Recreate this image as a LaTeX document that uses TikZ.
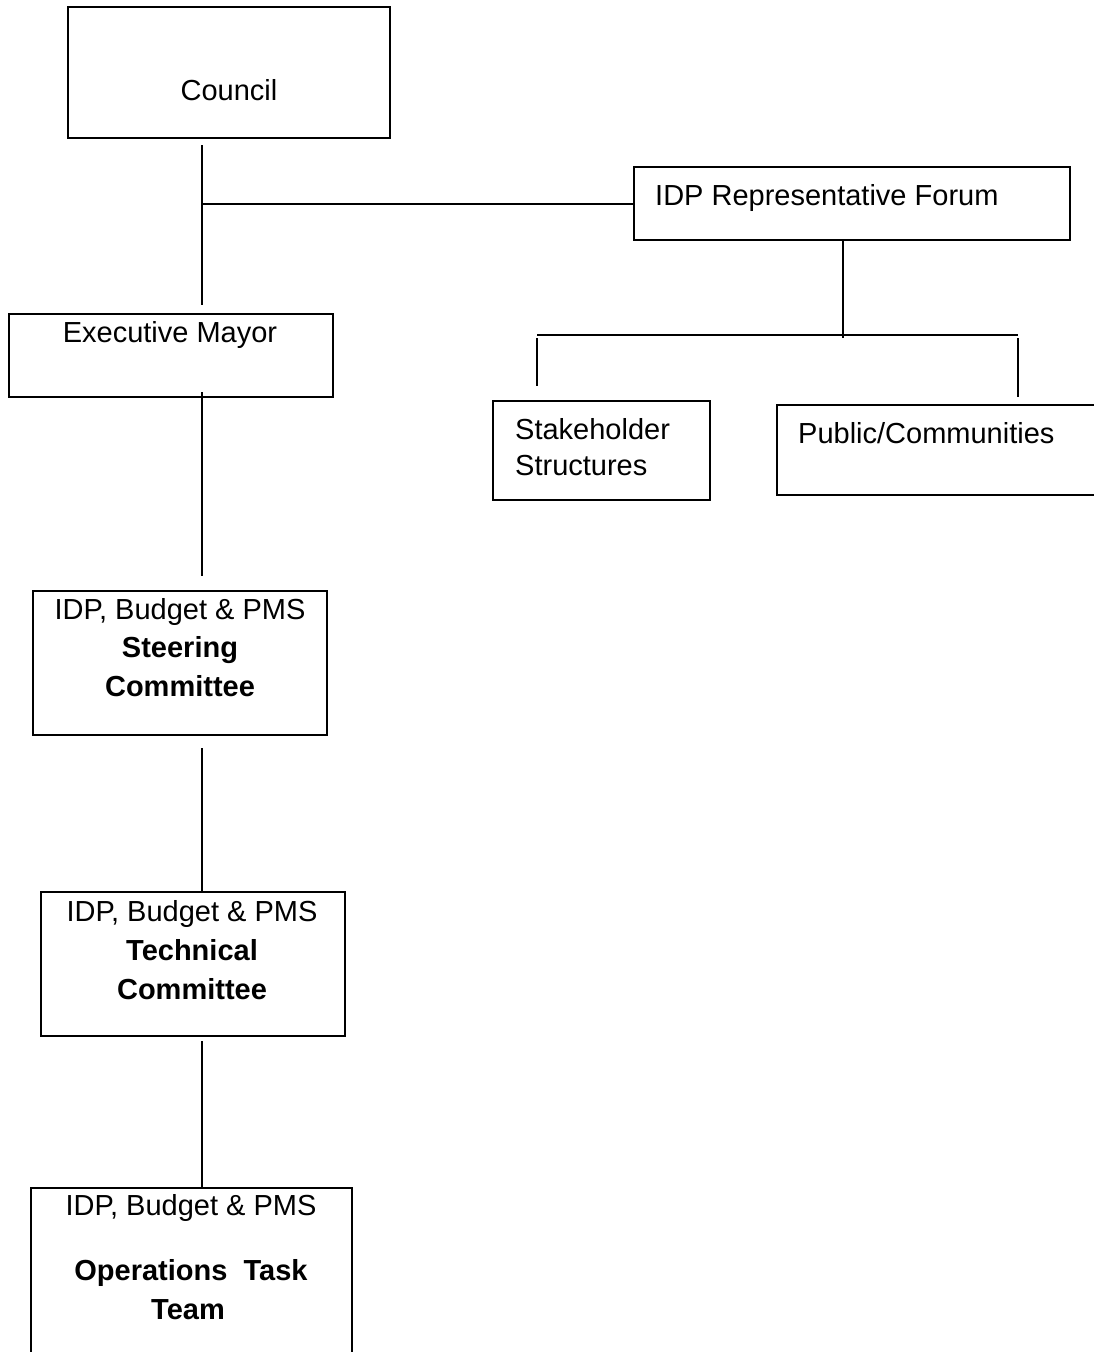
\documentclass[tikz,border=0pt]{standalone}
\usepackage{fontspec}
\setmainfont{Liberation Sans}
\usetikzlibrary{calc}
\tikzset{
  box/.style={draw, line width=2pt, rectangle, inner sep=0pt, outer sep=0pt},
  txt/.style={font=\fontsize{29}{38}\selectfont, inner sep=0pt, anchor=base},
  ltxt/.style={txt, anchor=base west},
  btxt/.style={txt, font=\fontsize{29}{38}\selectfont\bfseries},
  link/.style={line width=2pt},
}
\begin{document}
\begin{tikzpicture}[x=1pt,y=-1pt]
\useasboundingbox (0,0) rectangle (1094,1352);
\clip (0,0) rectangle (1094,1352);

% boxes
\node[box, minimum width=322, minimum height=131] (council) at (229,72.5) {};
\node[box, minimum width=324, minimum height=83]  (mayor)   at (171,355.5) {};
\node[box, minimum width=294, minimum height=144] (steer)   at (180,663) {};
\node[box, minimum width=304, minimum height=144] (tech)    at (193,964) {};
\node[box, minimum width=321, minimum height=172] (ops)     at (191.5,1274) {};
\node[box, minimum width=436, minimum height=73]  (forum)   at (852,203.5) {};
\node[box, minimum width=217, minimum height=99]  (stake)   at (601.5,450.5) {};
\node[box, minimum width=333, minimum height=90]  (public)  at (943.5,450) {};

% labels
\node[txt]  (councilT) at (229,100) {Council};
\node[txt]  (mayorT)   at (170,342) {Executive Mayor};
\node[ltxt] (forumT)   at (655,205) {IDP Representative Forum};
\node[ltxt] (stakeT1)  at (515,439) {Stakeholder};
\node[ltxt] (stakeT2)  at (515,475) {Structures};
\node[ltxt] (publicT)  at (798,443) {Public/Communities};

\node[txt]  (steerT1) at (180,619) {IDP, Budget \& PMS};
\node[btxt] (steerT2) at (180,657) {Steering};
\node[btxt] (steerT3) at (180,696) {Committee};

\node[txt]  (techT1) at (192,921) {IDP, Budget \& PMS};
\node[btxt] (techT2) at (192,960) {Technical};
\node[btxt] (techT3) at (192,999) {Committee};

\node[txt]  (opsT1) at (191,1215) {IDP, Budget \& PMS};
\node[btxt] (opsT2) at (191,1280) {Operations\ \ Task};
\node[btxt] (opsT3) at (188,1319) {Team};

% connector positions
\coordinate (trunk) at (202,0);
\coordinate (bus) at (843,335);
\coordinate (lft) at (537,335);
\coordinate (rgt) at (1018,335);

% main vertical chain
\draw[link] ($(council.south -| trunk)+(0,7)$) -- ($(mayor.north -| trunk)+(0,-9)$);
\draw[link] (forum.west -| trunk) -- (forum.west);
\draw[link] ($(mayor.south -| trunk)+(0,-5)$) -- ($(steer.north -| trunk)+(0,-15)$);
\draw[link] ($(steer.south -| trunk)+(0,13)$) -- (tech.north -| trunk);
\draw[link] ($(tech.south -| trunk)+(0,5)$) -- (ops.north -| trunk);

% forum branch
\draw[link] (forum.south -| bus) -- ($(bus)+(0,3)$);
\draw[link] (lft) -- (rgt);
\draw[link] ($(lft)+(0,3)$) -- ($(stake.north -| lft)+(0,-15)$);
\draw[link] ($(rgt)+(0,3)$) -- ($(public.north -| rgt)+(0,-8)$);
\end{tikzpicture}
\end{document}
